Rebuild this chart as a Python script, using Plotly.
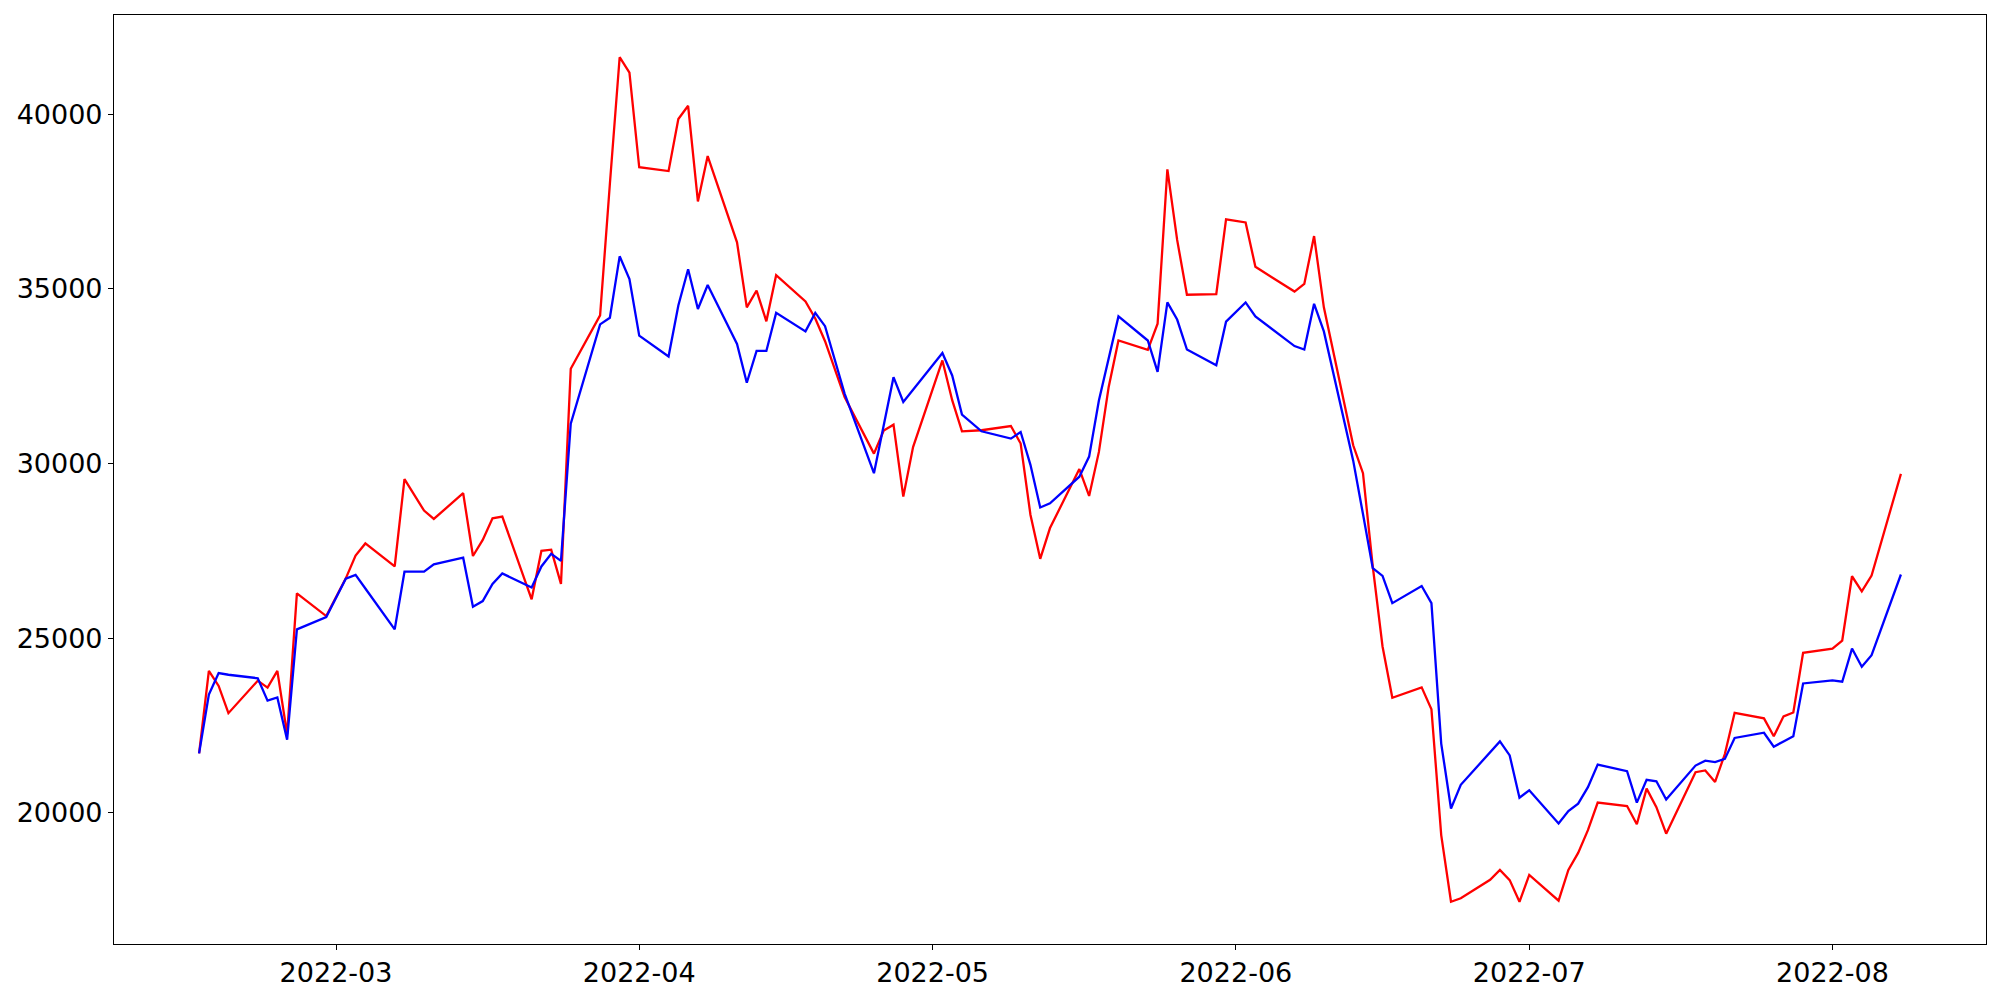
import pandas as pd
import plotly.graph_objects as go

dates = [
    "2022-02-15", "2022-02-16", "2022-02-17", "2022-02-18", "2022-02-21", "2022-02-22", "2022-02-23",
    "2022-02-24", "2022-02-25", "2022-02-28", "2022-03-02", "2022-03-03", "2022-03-04", "2022-03-07",
    "2022-03-08", "2022-03-10", "2022-03-11", "2022-03-14", "2022-03-15", "2022-03-16", "2022-03-17",
    "2022-03-18", "2022-03-21", "2022-03-22", "2022-03-23", "2022-03-24", "2022-03-25", "2022-03-28",
    "2022-03-29", "2022-03-30", "2022-03-31", "2022-04-01", "2022-04-04", "2022-04-05", "2022-04-06",
    "2022-04-07", "2022-04-08", "2022-04-11", "2022-04-12", "2022-04-13", "2022-04-14", "2022-04-15",
    "2022-04-18", "2022-04-19", "2022-04-20", "2022-04-21", "2022-04-22", "2022-04-25", "2022-04-26",
    "2022-04-27", "2022-04-28", "2022-04-29", "2022-05-02", "2022-05-03", "2022-05-04", "2022-05-06",
    "2022-05-09", "2022-05-10", "2022-05-11", "2022-05-12", "2022-05-13", "2022-05-16", "2022-05-17",
    "2022-05-18", "2022-05-19", "2022-05-20", "2022-05-23", "2022-05-24", "2022-05-25", "2022-05-26",
    "2022-05-27", "2022-05-30", "2022-05-31", "2022-06-02", "2022-06-03", "2022-06-07", "2022-06-08",
    "2022-06-09", "2022-06-10", "2022-06-13", "2022-06-14", "2022-06-15", "2022-06-16", "2022-06-17",
    "2022-06-20", "2022-06-21", "2022-06-22", "2022-06-23", "2022-06-24", "2022-06-27", "2022-06-28",
    "2022-06-29", "2022-06-30", "2022-07-01", "2022-07-04", "2022-07-05", "2022-07-06", "2022-07-07",
    "2022-07-08", "2022-07-11", "2022-07-12", "2022-07-13", "2022-07-14", "2022-07-15", "2022-07-18",
    "2022-07-19", "2022-07-20", "2022-07-21", "2022-07-22", "2022-07-25", "2022-07-26", "2022-07-27",
    "2022-07-28", "2022-07-29", "2022-08-01", "2022-08-02", "2022-08-03", "2022-08-04", "2022-08-05",
    "2022-08-08",
]

red_values = [
    21700, 24060, 23630, 22850, 23780, 23580, 24060,
    22250, 26280, 25630, 26710, 27360, 27710, 27050,
    29550, 28650, 28410, 29150, 27350, 27810, 28430,
    28480, 26110, 27500, 27530, 26550, 32710, 34240,
    38000, 41630, 41190, 38480, 38370, 39860, 40240,
    37500, 38800, 36330, 34470, 34950, 34070, 35390,
    34640, 34150, 33500, 32700, 31900, 30280, 30940,
    31110, 29050, 30470, 32950, 31810, 30920, 30950,
    31070, 30570, 28530, 27270, 28150, 29840, 29070,
    30330, 32190, 33520, 33250, 34000, 38420, 36400,
    34830, 34850, 36990, 36900, 35630, 34920, 35140,
    36510, 34470, 30520, 29720, 27050, 24760, 23290,
    23590, 22960, 19360, 17450, 17550, 18080, 18360,
    18070, 17450, 18220, 17480, 18360, 18850, 19500,
    20290, 20190, 19670, 20690, 20160, 19400, 21160,
    21210, 20880, 21680, 22860, 22700, 22190, 22760,
    22870, 24580, 24700, 24930, 26770, 26340, 26790,
    29700,
]

blue_values = [
    21700, 23380, 24000, 23950, 23850, 23210, 23300,
    22090, 25250, 25600, 26700, 26810, 26420, 25250,
    26900, 26900, 27110, 27300, 25900, 26060, 26550,
    26850, 26450, 27050, 27410, 27210, 31140, 33980,
    34170, 35930, 35280, 33660, 33060, 34520, 35560,
    34420, 35110, 33420, 32310, 33220, 33220, 34310,
    33780, 34310, 33930, 33000, 32000, 29720, 31080,
    32470, 31760, 32110, 33160, 32520, 31400, 30920,
    30710, 30900, 29960, 28740, 28860, 29620, 30195,
    31800, 33030, 34210, 33520, 32620, 34610, 34120,
    33260, 32810, 34060, 34610, 34210, 33360, 33260,
    34570, 33780, 30080, 28550, 27000, 26780, 26000,
    26490, 26000, 21980, 20120, 20800, 21750, 22040,
    21640, 20430, 20640, 19690, 20050, 20260, 20730,
    21380, 21190, 20290, 20940, 20900, 20380, 21350,
    21490, 21450, 21540, 22140, 22290, 21890, 22040,
    22190, 23700, 23790, 23750, 24700, 24180, 24510,
    26820,
]

x_tick_values = ["2022-03-01", "2022-04-01", "2022-05-01", "2022-06-01", "2022-07-01", "2022-08-01"]
x_tick_labels = ["2022-03", "2022-04", "2022-05", "2022-06", "2022-07", "2022-08"]
y_tick_values = [20000, 25000, 30000, 35000, 40000]
y_tick_labels = ["20000", "25000", "30000", "35000", "40000"]

x = pd.to_datetime(dates)

# matplotlib-like 5% margins
span = x.max() - x.min()
x_range = [x.min() - 0.05 * span, x.max() + 0.05 * span]
all_vals = red_values + blue_values
vspan = max(all_vals) - min(all_vals)
y_range = [min(all_vals) - 0.05 * vspan, max(all_vals) + 0.05 * vspan]

fig = go.Figure()
fig.add_trace(go.Scatter(x=x, y=red_values, mode="lines",
                         line=dict(color="#ff0000", width=2.3), showlegend=False))
fig.add_trace(go.Scatter(x=x, y=blue_values, mode="lines",
                         line=dict(color="#0000ff", width=2.3), showlegend=False))

axis_common = dict(showline=True, mirror=True, linecolor="black", linewidth=1.1,
                   ticks="outside", ticklen=5, tickwidth=1.1, tickcolor="black",
                   showgrid=False, zeroline=False,
                   tickfont=dict(family="DejaVu Sans", size=27, color="black"))

fig.update_layout(
    width=2000, height=1000,
    margin=dict(l=114, r=14, t=15, b=52),
    paper_bgcolor="white", plot_bgcolor="white",
    xaxis=dict(range=[x_range[0], x_range[1]], tickmode="array",
               tickvals=x_tick_values, ticktext=x_tick_labels, **axis_common),
    yaxis=dict(range=y_range, tickmode="array",
               tickvals=y_tick_values, ticktext=y_tick_labels, **axis_common),
)

fig.write_html("out.html",
               config={"displayModeBar": False},
               post_script="document.body.style.margin='0';document.body.style.padding='0';")
